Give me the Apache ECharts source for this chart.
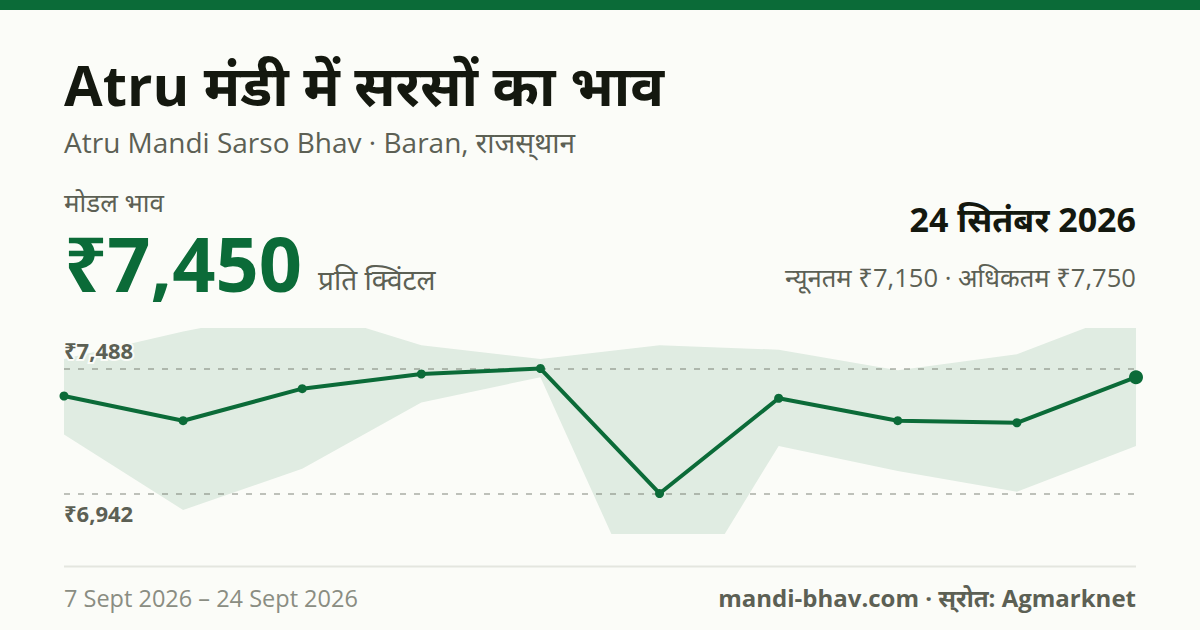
<!DOCTYPE html>
<html><head><meta charset="utf-8">
<style>html,body{margin:0;padding:0;background:#fbfcf8}#c{width:1200px;height:630px}</style>
<script src="https://cdn.jsdelivr.net/npm/echarts@6/dist/echarts.min.js"></script>
</head><body><div id="c"></div>
<script>
const dates = ['7 Sept','9 Sept','11 Sept','13 Sept','15 Sept','17 Sept','19 Sept','21 Sept','23 Sept','24 Sept'];
const modal = [7368,7260,7400,7464,7488,6942,7358,7260,7251,7450];
const maxPrice = [7530,7650,7750,7590,7530,7590,7570,7480,7550,7750];
const minPrice = [7200,6870,7050,7340,7450,6300,7150,7040,6950,7150];
const refHigh = 7488, refLow = 6942;
const axisMin = 6765, axisMax = 7665;
const titleText='Atru मंडी में सरसों का भाव';
const subText='Atru Mandi Sarso Bhav · Baran, राजस्\u200Cथान';
const rangeText='7 Sept 2026 – 24 Sept 2026';
const sourceText='mandi-bhav.com · स्\u200Cरोत: Agmarknet';
const green='#0b6b38', ink='#14180f', mid='#5c6054', soft='#8a8d82', bg='#fbfcf8';
const font='"Open Sans","Noto Sans",sans-serif';
function T(text,x,base,size,weight,color,align){
  return {type:'text',x:x,y:base-size*0.36,silent:true,style:{text:text,fontFamily:font,fontSize:size,fontWeight:weight,fill:color,align:align||'left',verticalAlign:'middle'}};
}
const chart=echarts.init(document.getElementById('c'),null,{renderer:'svg'});
chart.setOption({
  animation:false,
  backgroundColor:bg,
  grid:{left:64,right:64,top:328,height:206},
  xAxis:{type:'category',data:dates,boundaryGap:false,show:false},
  yAxis:{type:'value',min:axisMin,max:axisMax,show:false},
  graphic:[
    {type:'rect',shape:{x:0,y:0,width:1200,height:10},style:{fill:green},silent:true},
    {type:'rect',shape:{x:64,y:565.5,width:1072,height:2},style:{fill:'#e4e6df'},silent:true},
    T(titleText,64,104,56,700,ink),
    T(subText,64,152,28,400,mid),
    T('मोडल भाव',64,211,26,400,mid),
    T('₹7,450',64,290,75.7,700,green),
    T('प्रति क्विंटल',318,289,28,400,mid),
    T('24 सितंबर 2026',1136,231,34,700,ink,'right'),
    T('न्यूनतम ₹7,150 · अधिकतम ₹7,750',1136,286.5,25.6,400,mid,'right'),
    T(rangeText,64,606,23.5,400,soft),
    T(sourceText,1136,606,24,700,mid,'right')
  ],
  series:[
    {type:'line',name:'min',stack:'band',data:minPrice,symbol:'none',lineStyle:{width:0},silent:true,z:1},
    {type:'line',name:'range',stack:'band',data:maxPrice.map((v,i)=>v-minPrice[i]),symbol:'none',lineStyle:{width:0},areaStyle:{color:green,opacity:0.11},silent:true,z:1},
    {type:'line',name:'modal',data:modal.map((v,i)=>i===modal.length-1?{value:v,symbol:'circle',symbolSize:14}:v),
      symbol:'circle',symbolSize:9,showAllSymbol:true,clip:false,z:3,
      lineStyle:{color:green,width:4},itemStyle:{color:green},
      markLine:{silent:true,symbol:'none',animation:false,z:2,
        lineStyle:{type:[6,8],color:'#5c6054',opacity:0.5,width:1.5},
        label:{show:false},
        data:[{yAxis:refHigh},{yAxis:refLow}]},
      markPoint:{symbol:'circle',symbolSize:0,silent:true,animation:false,
        label:{show:true,position:'right',distance:0,fontFamily:font,fontSize:22,fontWeight:700,color:mid,textBorderColor:bg,textBorderWidth:4,formatter:p=>'₹'+p.value.toLocaleString('en-IN')},
        data:[{value:refHigh,xAxis:dates[0],yAxis:refHigh,label:{offset:[0,-18.5]}},
              {value:refLow,xAxis:dates[0],yAxis:refLow,label:{offset:[0,19.5]}}]}}
  ]
});
</script></body></html>
